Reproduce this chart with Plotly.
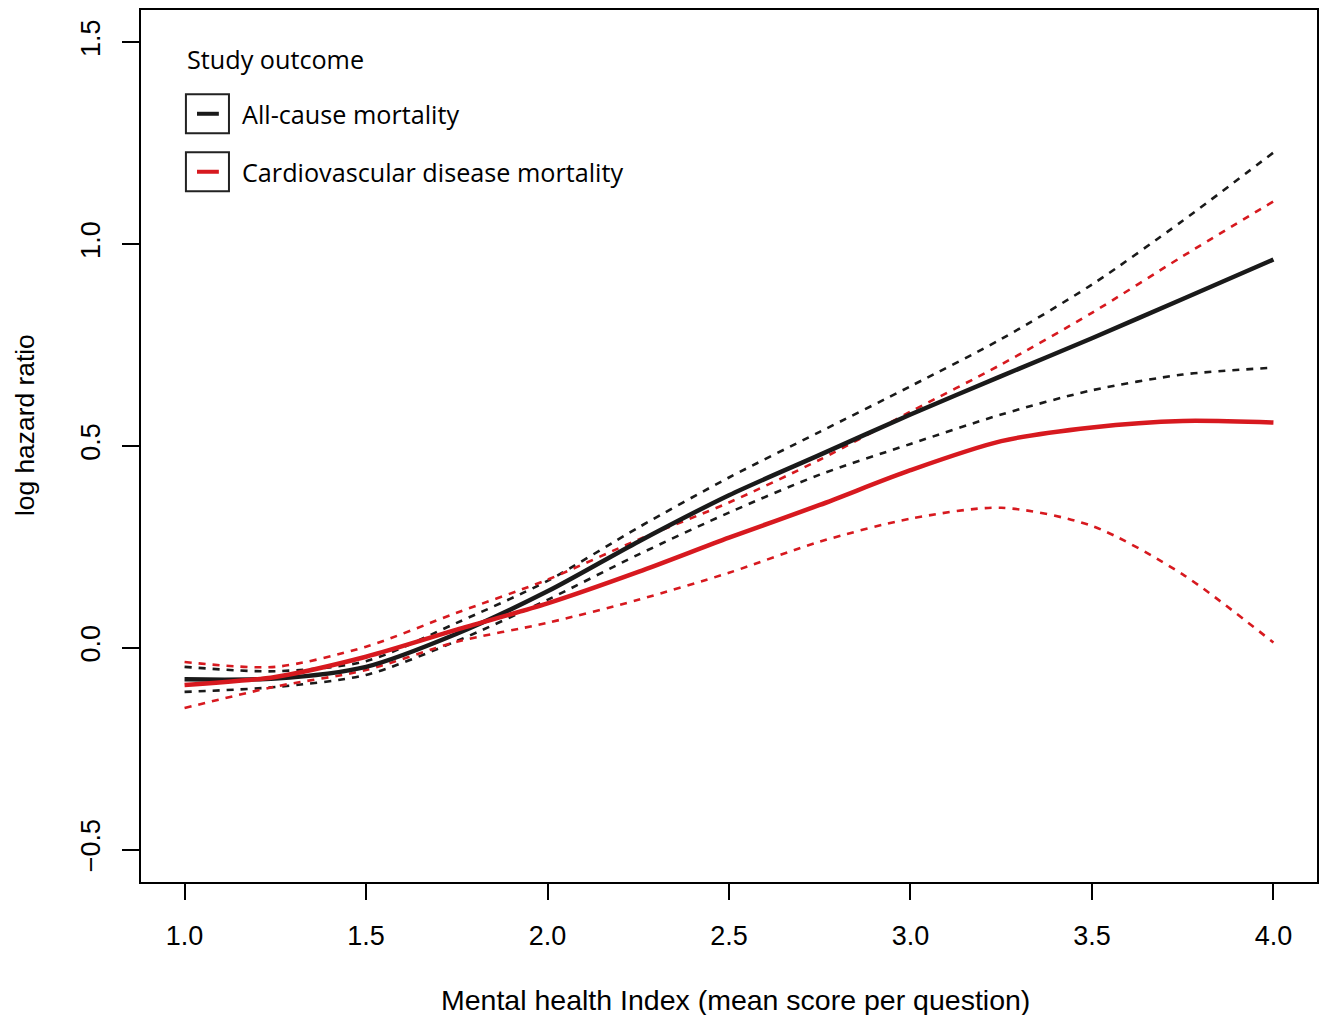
import plotly.graph_objects as go

# Data
x_vals = [1.0, 1.25, 1.5, 1.75, 2.0, 2.25, 2.5, 2.75, 3.0, 3.25, 3.5, 3.75, 4.0]

allcause_fit = [-0.078, -0.076, -0.047, 0.035, 0.140, 0.263, 0.378, 0.478, 0.578, 0.673, 0.767, 0.864, 0.962]
allcause_upper = [-0.047, -0.058, -0.033, 0.062, 0.166, 0.298, 0.422, 0.535, 0.648, 0.765, 0.900, 1.058, 1.227]
allcause_lower = [-0.109, -0.097, -0.067, 0.017, 0.119, 0.231, 0.335, 0.429, 0.505, 0.578, 0.638, 0.677, 0.694]

cvd_fit = [-0.092, -0.072, -0.022, 0.045, 0.110, 0.188, 0.273, 0.354, 0.440, 0.512, 0.546, 0.562, 0.558]
cvd_upper = [-0.035, -0.047, 0.003, 0.087, 0.169, 0.268, 0.360, 0.466, 0.585, 0.702, 0.830, 0.970, 1.106]
cvd_lower = [-0.149, -0.096, -0.055, 0.015, 0.062, 0.119, 0.186, 0.263, 0.320, 0.347, 0.302, 0.182, 0.013]

x_ticks = [1.0, 1.5, 2.0, 2.5, 3.0, 3.5, 4.0]
y_ticks = [-0.5, 0.0, 0.5, 1.0, 1.5]

legend_title = "Study outcome"
legend_labels = ["All-cause mortality", "Cardiovascular disease mortality"]

BLACK = "#1a1a1a"
RED = "#d7191f"
DASH = "7px,7px"

fig = go.Figure()

def add(y, color, width, dash=None):
    fig.add_trace(go.Scatter(
        x=x_vals, y=y, mode="lines", showlegend=False, hoverinfo="skip",
        line=dict(color=color, width=width, shape="spline", smoothing=0.8,
                  dash=dash if dash else "solid"),
    ))

add(allcause_upper, BLACK, 2.6, DASH)
add(allcause_lower, BLACK, 2.6, DASH)
add(cvd_upper, RED, 2.6, DASH)
add(cvd_lower, RED, 2.6, DASH)
add(allcause_fit, BLACK, 4.5)
add(cvd_fit, RED, 4.5)

axis_font = dict(family="Liberation Sans, Arial, sans-serif", size=27, color="black")
xtitle_font = dict(family="Liberation Sans, Arial, sans-serif", size=28.5, color="black")
ytitle_font = dict(family="Liberation Sans, Arial, sans-serif", size=26.4, color="black")
legend_font = dict(family="Open Sans, sans-serif", size=25.2, color="black")

def fmt(v):
    return f"{v:.1f}".replace("-", "\u2212")

fig.update_xaxes(
    range=[0.88, 4.12], tickvals=x_ticks, ticktext=[fmt(v) for v in x_ticks],
    ticks="outside", ticklen=16, tickwidth=1.5, tickcolor="black",
    showline=True, linecolor="black", linewidth=1.5, mirror=True,
    showgrid=False, zeroline=False, tickfont=axis_font, ticklabelstandoff=13,
)
fig.update_yaxes(
    range=[-0.58, 1.58], tickvals=y_ticks, ticktext=[fmt(v) for v in y_ticks],
    ticks="outside", ticklen=17, tickwidth=1.5, tickcolor="black",
    showline=True, linecolor="black", linewidth=1.5, mirror=True,
    showgrid=False, zeroline=False, tickfont=axis_font, tickangle=-90,
    ticklabelstandoff=11,
)

annotations = [
    dict(text="Mental health Index (mean score per question)", xref="paper", yref="paper",
         x=0.5055, y=-0.1353, xanchor="center", yanchor="middle", showarrow=False, font=xtitle_font),
    dict(text="log hazard ratio", xref="paper", yref="paper", x=-0.0986, y=0.524,
         xanchor="center", yanchor="middle", textangle=-90, showarrow=False, font=ytitle_font),
    dict(text=legend_title, xref="paper", yref="paper", x=0.0374, y=0.9440,
         xanchor="left", yanchor="middle", showarrow=False, font=legend_font),
]
shapes = []
leg_colors = [BLACK, RED]
leg_y = [0.8810, 0.8145]  # paper fractions for legend rows
for label, col, yc in zip(legend_labels, leg_colors, leg_y):
    annotations.append(dict(text=label, xref="paper", yref="paper", x=0.0841, y=yc,
                            xanchor="left", yanchor="middle", showarrow=False, font=legend_font))
    shapes.append(dict(type="rect", xref="paper", yref="paper", x0=0.0382, x1=0.0748,
                       y0=yc - 0.0224, y1=yc + 0.0224, line=dict(color="#222", width=2)))
    shapes.append(dict(type="line", xref="paper", yref="paper", x0=0.0476, x1=0.0662,
                       y0=yc, y1=yc, line=dict(color=col, width=4)))

fig.update_layout(
    width=1319, height=1015,
    margin=dict(l=141, r=0, t=10, b=133),
    plot_bgcolor="white", paper_bgcolor="white",
    annotations=annotations, shapes=shapes,
)

fig.write_html(
    "out.html",
    config={"displayModeBar": False},
    post_script="document.body.style.margin='0';document.body.style.overflow='hidden';",
)
